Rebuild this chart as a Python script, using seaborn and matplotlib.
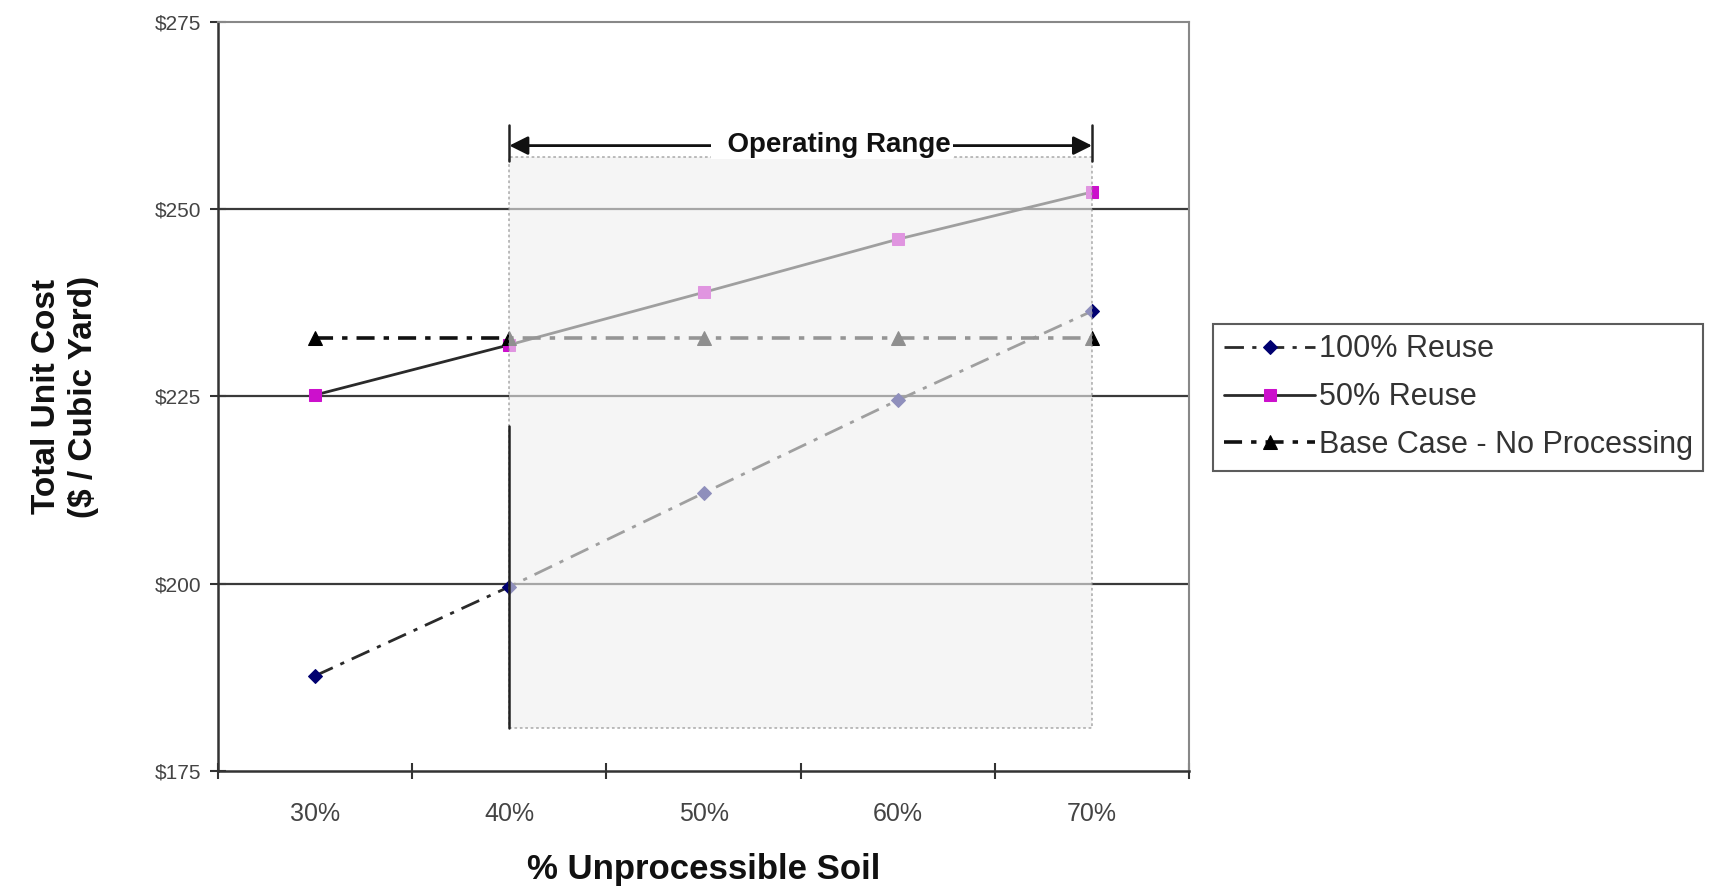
import numpy as np
import pandas as pd
import seaborn as sns
import matplotlib.pyplot as plt
from matplotlib.patches import Rectangle

# values
soil = ["30%", "40%", "50%", "60%", "70%"]
reuse_100 = [187.7, 199.6, 212.1, 224.5, 236.4]
reuse_50 = [225.2, 231.9, 238.9, 246.0, 252.3]
base_case = [232.8, 232.8, 232.8, 232.8, 232.8]
y_ticks = [175, 200, 225, 250, 275]

sns.set_theme(style="white")
plt.rcParams['font.family'] = ['Liberation Sans', 'DejaVu Sans']

fig = plt.figure(figsize=(17.11, 8.92), dpi=100)
ax = fig.add_axes([0.1274, 0.1357, 0.5676, 0.8396])

# horizontal gridlines
for yy in y_ticks[1:-1]:
    ax.axhline(yy, color="#3a3a3a", lw=1.6, zorder=1)

series = [
    ("100% Reuse", reuse_100, "D", "#000070", (0, (7, 3, 1.5, 3)), "#2a2a2a", 2.0, 7),
    ("50% Reuse", reuse_50, "s", "#cc10cc", "-", "#2a2a2a", 2.0, 9),
    ("Base Case - No Processing", base_case, "^", "#000000", (0, (5, 2.5, 1.5, 2.5)), "#111111", 2.6, 10),
]
for label, vals, mk, mcol, ls, lcol, lw, ms in series:
    df = pd.DataFrame({"soil": soil, "cost": vals})
    sns.lineplot(data=df, x="soil", y="cost", ax=ax, color=lcol, lw=lw,
                 linestyle=ls, marker=mk, markersize=ms, markerfacecolor=mcol,
                 markeredgecolor=mcol, label=label, zorder=3)

# operating range overlay
ax.add_patch(Rectangle((1, 180.8), 3, 76.2, facecolor="#efefef", alpha=0.6,
                       edgecolor="#888888", lw=1.3, linestyle=(0, (1.5, 1.5)), zorder=4))
ax.plot([1, 1], [180.8, 221.0], color="#222222", lw=1.8, zorder=5)
ax.plot([1, 1], [256.5, 261.3], color="#222222", lw=1.8, zorder=5)
ax.plot([4, 4], [256.5, 261.3], color="#222222", lw=1.8, zorder=5)
ax.annotate("", xy=(1, 258.5), xytext=(4, 258.5),
            arrowprops=dict(arrowstyle="<|-|>", color="#111111", lw=2.0,
                            mutation_scale=28, shrinkA=0, shrinkB=0), zorder=6)
ax.text(2.66, 258.6, "  Operating Range", ha="center", va="center", fontsize=20,
        fontweight="bold", color="#111111", zorder=7,
        bbox=dict(facecolor="white", edgecolor="none", pad=1))

ax.set_xlim(-0.5, 4.5)
ax.set_ylim(175, 275)
ax.set_yticks(y_ticks)
ax.set_yticklabels([f"${v}" for v in y_ticks])
ax.set_xticks(range(len(soil)))
ax.set_xticklabels(soil)
ax.set_xticks(np.arange(-0.5, 5, 1), minor=True)
ax.tick_params(axis="x", which="major", bottom=False, length=0, pad=22, labelsize=18,
               labelcolor="#444444")
ax.tick_params(axis="x", which="minor", bottom=True, direction="inout", length=12,
               width=1.5, color="#333333")
ax.tick_params(axis="y", left=True, direction="inout", length=12, width=1.5, color="#333333",
               labelsize=15, labelcolor="#444444", pad=6)

for side in ["left", "bottom"]:
    ax.spines[side].set_color("#333333")
    ax.spines[side].set_linewidth(1.8)
for side in ["top", "right"]:
    ax.spines[side].set_color("#888888")
    ax.spines[side].set_linewidth(1.5)

ax.set_xlabel("% Unprocessible Soil", fontsize=25, fontweight="bold", labelpad=20,
              color="#111111")
ax.set_ylabel("Total Unit Cost\n($ / Cubic Yard)", fontsize=24, fontweight="bold",
              labelpad=40, linespacing=1.25, color="#111111")

leg = ax.legend(loc="upper left", bbox_to_anchor=(0.709, 0.637), bbox_transform=fig.transFigure,
                fontsize=22, frameon=True, fancybox=False, handlelength=3.0,
                handletextpad=0.1, labelspacing=0.58, borderpad=0.35, borderaxespad=0)
leg.get_frame().set_edgecolor("#333333")
leg.get_frame().set_linewidth(1.5)
for t in leg.get_texts():
    t.set_color("#333333")

fig.savefig("out.png", dpi=100, facecolor="white")
